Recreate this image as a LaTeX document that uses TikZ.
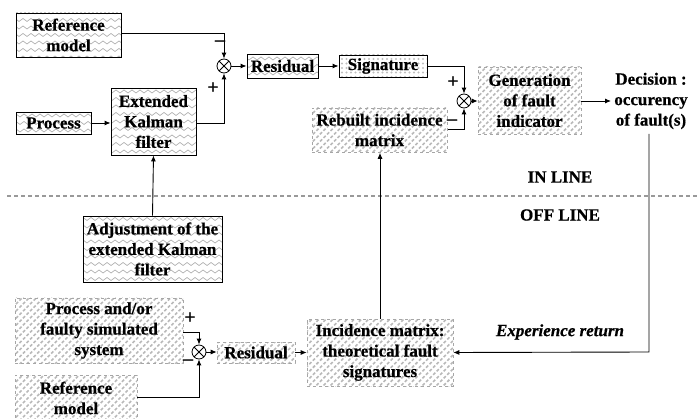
\documentclass[tikz,border=0pt]{standalone}
\usepackage{fontspec}
\setmainfont{Liberation Serif}[BoldFeatures={FakeBold=0.6},BoldItalicFeatures={FakeBold=0.6}]
\usetikzlibrary{arrows.meta,patterns.meta,decorations.pathmorphing}
\tikzset{
  txt/.style={inner sep=0pt, align=center, font=\fontsize{17}{20.5}\selectfont\bfseries},
  box/.style={txt, rectangle},
  wavybox/.style={box, draw=black, line width=0.9pt, path picture={
     \foreach \k in {-8,...,8} {\draw[gray!60, line width=0.7pt, decorate,
       decoration={snake,amplitude=1.5pt,segment length=8pt}]
       ([xshift=-120pt,yshift=\k*7.5pt]path picture bounding box.center) -- ++(240pt,0);}}},
  dotbox/.style={box, draw=black, line width=0.9pt,
     pattern={Dots[radius=1.2pt,distance=4.5pt]}, pattern color=gray!50},
  hatchbox/.style={box, draw=gray!70, dashed, line width=0.6pt,
     pattern={Lines[angle=45,distance=5pt,line width=1.6pt]}, pattern color=gray!55},
  sumnode/.style={circle, draw, line width=0.8pt, minimum size=14pt, inner sep=0pt,
     path picture={\draw[line width=0.8pt] (path picture bounding box.north west)--(path picture bounding box.south east)
       (path picture bounding box.north east)--(path picture bounding box.south west);}},
  conn/.style={draw, line width=0.9pt, -{Latex[length=6pt,width=5pt]}},
  sign/.style={inner sep=0pt, font=\fontsize{20}{20}\selectfont\bfseries}
}
\begin{document}
\begin{tikzpicture}[x=1pt,y=-1pt]
\useasboundingbox (0,0) rectangle (698,419);
% in line boxes
\node[wavybox, minimum width=105pt, minimum height=44pt] (refT) at (68.5,35) {Reference\\model};
\node[wavybox, minimum width=75pt, minimum height=22pt] (proc) at (53.5,123) {Process};
\node[wavybox, minimum width=85pt, minimum height=67pt] (ekf) at (153.5,121.5) {Extended\\Kalman\\filter};
\node[wavybox, minimum width=139pt, minimum height=66pt] (adj) at (152.5,249) {Adjustment of the\\extended Kalman\\filter};
\node[wavybox, minimum width=71pt, minimum height=24pt] (resT) at (282.5,66) {Residual};
\node[dotbox, minimum width=88pt, minimum height=22pt] (sig) at (383,66) {Signature};
\node[hatchbox, minimum width=135pt, minimum height=44pt] (reb) at (379.5,130) {Rebuilt incidence\\matrix};
\node[hatchbox, minimum width=103pt, minimum height=67pt] (gen) at (529.5,100.5) {Generation\\of fault\\indicator};
\node[txt] (dec) at (651,101) {Decision :\\occurency\\of fault(s)};
\node[sumnode] (s1) at (224,66) {};
\node[sumnode] (s2) at (464,101) {};
% labels
\node[txt] (inl) at (560,177) {IN LINE};
\node[txt] (offl) at (560,215) {OFF LINE};
\node[txt, font=\fontsize{17}{20}\selectfont\bfseries\itshape] (exp) at (560,332) {Experience return};
% off line boxes
\node[hatchbox, minimum width=168pt, minimum height=65pt] (pas) at (99,330.5) {Process and/or\\faulty simulated\\system};
\node[hatchbox, minimum width=122pt, minimum height=46pt] (refB) at (76,398) {Reference\\model};
\node[hatchbox, minimum width=78pt, minimum height=21pt] (resB) at (256,352.5) {Residual};
\node[hatchbox, minimum width=146pt, minimum height=67pt] (inc) at (380,352.5) {Incidence matrix:\\theoretical fault\\signatures};
\node[sumnode] (s3) at (199,352) {};
% separator
\coordinate (sepL) at (7,196);
\coordinate (sepR) at (698,196);
\draw[gray!80, line width=1.3pt, dash pattern=on 4pt off 3pt] (sepL) -- (sepR);
% connectors in line
\path[conn] (refT.east |- 0,33) -| (s1.north);
\path[conn] (ekf.east |- 0,123) -| (s1.south);
\path[conn] (proc.east) -- (ekf.west |- proc.east);
\path[conn] (s1.east) -- (resT.west);
\path[conn] (resT.east) -- (sig.west);
\path[conn] (sig.east) -| (s2.north);
\path[conn] (reb.east |- 0,129) -| (s2.south);
\path[conn] (s2.east) -- (gen.west |- s2.east);
\coordinate (decin) at (611,101);
\path[conn] (gen.east |- decin) -- (decin);
\path[conn] (adj.north) -- (ekf.south);
\path[conn] (inc.north) -- (inc.north |- reb.south);
\coordinate (decout) at (649,134);
\path[conn] (decout) -- (649,352) -- (inc.east);
\node[sign] (m1) at (220,43) {–};
\node[sign] (p1) at (213,88) {+};
\node[sign] (p2) at (453,82) {+};
\node[sign] (m2) at (452,122) {–};
% connectors off line
\path[conn] (pas.east |- 0,332) -| (s3.north);
\path[conn] (refB.east |- 0,397) -| (s3.south);
\path[conn] (s3.east) -- (resB.west |- s3.east);
\path[conn] (resB.east) -- (inc.west |- resB.east);
\node[sign] (p3) at (190,318) {+};
\node[sign] (m3) at (188,362) {–};
\end{tikzpicture}
\end{document}
